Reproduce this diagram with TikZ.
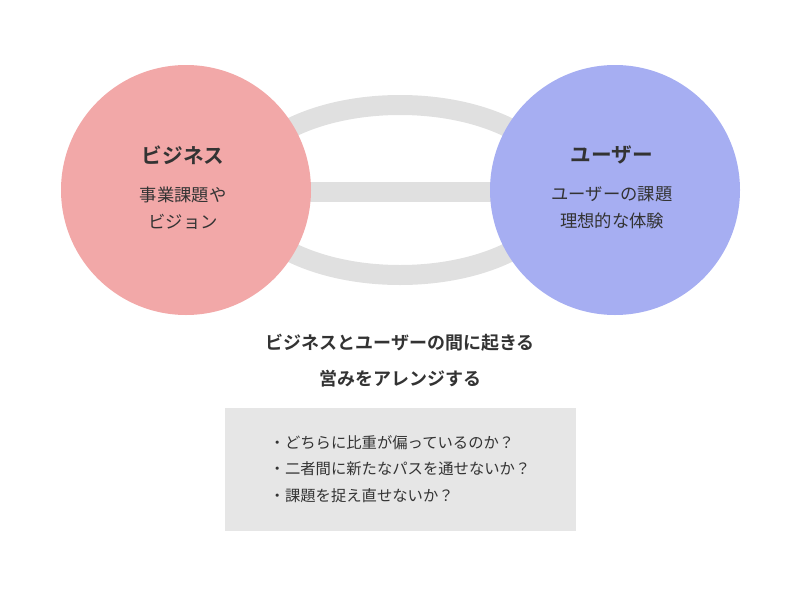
\documentclass[tikz,border=0pt]{standalone}
\usepackage{fontspec}
\setmainfont{Noto Sans CJK JP}
\newfontfamily\jpb{Noto Sans CJK JP Bold}
\begin{document}
\begin{tikzpicture}[x=0.75pt,y=-0.75pt,
  txt/.style={text=black!80,font=\fontsize{13}{16}\selectfont,align=center},
  ttl/.style={text=black!80,font=\jpb\fontsize{15.5}{19}\selectfont},
  sml/.style={text=black!80,font=\fontsize{11.5}{15}\selectfont}]
\useasboundingbox (0,0) rectangle (800,600);
\definecolor{pinkc}{HTML}{F2A8A8}
\definecolor{bluec}{HTML}{A6AEF2}
\definecolor{ringc}{HTML}{E0E0E0}
\definecolor{boxc}{HTML}{E6E6E6}
\draw[ringc,line width=15pt] (400,190) ellipse [x radius=160, y radius=85];
\fill[ringc] (300,182) rectangle (500,202);
\fill[pinkc] (186,190) circle [radius=125];
\fill[bluec] (615,190) circle [radius=125];
\node[ttl] (bt) at (183,155) {ビジネス};
\node[txt] (bs) at (183,208) {事業課題や\\[4pt]ビジョン};
\node[ttl] (ut) at (612,155) {ユーザー};
\node[txt] (us) at (612,208) {ユーザーの課題\\[4pt]理想的な体験};
\node[ttl,align=center,font=\jpb\fontsize{13.5}{27}\selectfont] (cap) at (400,361) {ビジネスとユーザーの間に起きる\\営みをアレンジする};
\fill[boxc] (225,408) rectangle (576,531);
\node[sml,anchor=west,align=left] (list) at (265,469) {・どちらに比重が偏っているのか？\\[5pt]・二者間に新たなパスを通せないか？\\[5pt]・課題を捉え直せないか？};
\end{tikzpicture}
\end{document}
